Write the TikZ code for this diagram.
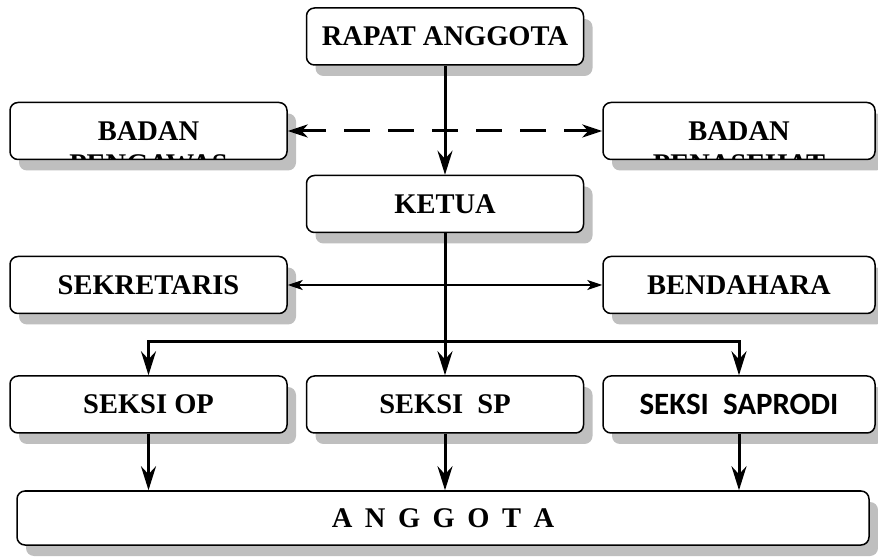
\documentclass[tikz,border=0pt]{standalone}
\usepackage{fontspec}
\setmainfont{Liberation Serif}
\newfontfamily\calfont{Carlito}
\usetikzlibrary{arrows.meta,shadows}
\tikzset{
    box/.style={draw, line width=1.5pt, rounded corners=8pt, fill=white,
        drop shadow={shadow xshift=9pt,shadow yshift=-11pt,fill=black!25,opacity=1},
        minimum width=277pt, minimum height=57pt, inner sep=0pt,
        font=\fontsize{28.5}{34}\selectfont\bfseries},
    narrowbox/.style={box, minimum width=272pt},
    boxtext/.style={inner sep=0pt, font=\fontsize{28.5}{34}\selectfont\bfseries},
    mainarrow/.style={line width=3pt, -{Stealth[length=24pt,width=15pt,inset=8pt]}},
    sidearrow/.style={line width=1.5pt,
        {Stealth[length=15pt,width=10pt,inset=4pt]}-{Stealth[length=15pt,width=10pt,inset=4pt]}},
    advarrow/.style={line width=3pt, dash pattern=on 26pt off 18pt,
        {Stealth[length=20pt,width=13pt,inset=6pt]}-{Stealth[length=20pt,width=13pt,inset=6pt]}}
}
\begin{document}
\begin{tikzpicture}[x=1pt,y=1pt]
    \useasboundingbox (0,0) rectangle (878,557);
    \node[box] (rapat) at (445,520.5) {RAPAT ANGGOTA};
    \node[box] (badanL) at ([shift={+(-296.5,-94.5)}]rapat) {BADAN};
    \node[narrowbox] (badanR) at ([shift={+(590.5,0)}]badanL) {BADAN};
    \node[box] (ketua) at ([shift={+(0,-167.5)}]rapat) {KETUA};
    \node[box] (sek) at ([shift={+(0,-154)}]badanL) {SEKRETARIS};
    \node[narrowbox] (bend) at ([shift={+(590.5,0)}]sek) {BENDAHARA};
    \node[box] (op) at ([shift={+(0,-119.5)}]sek) {SEKSI OP};
    \node[box] (sp) at ([shift={+(296.5,0)}]op) {SEKSI\ \ SP};
    \node[narrowbox, font=\calfont\fontsize{31}{34}\selectfont\bfseries] (sap) at ([shift={+(294,0)}]sp) {SEKSI\ \ SAPRODI};
    \node[box, minimum width=852pt, minimum height=54pt] (anggota) at ([shift={+(-2,-113.5)}]sp) {\spaceskip=12.5pt A N G G O T A};
    % second lines cut off by the boxes
    \begin{scope}
        \clip ([shift={(1pt,1pt)}]badanL.south west) rectangle ([shift={(-1pt,-1pt)}]badanL.north east);
        \node[boxtext, anchor=base] (pengawas) at ([yshift=-43pt]badanL.center) {PENGAWAS};
    \end{scope}
    \begin{scope}
        \clip ([shift={(1pt,1pt)}]badanR.south west) rectangle ([shift={(-1pt,-1pt)}]badanR.north east);
        \node[boxtext, anchor=base] (penasehat) at ([yshift=-43pt]badanR.center) {PENASEHAT};
    \end{scope}
    \draw[mainarrow] (rapat.south) -- (ketua.north);
    \draw[advarrow] (badanL.east) -- (badanR.west);
    \draw[sidearrow] (sek.east) -- (bend.west);
    \draw[mainarrow] (ketua.south) -- (sp.north);
    \draw[mainarrow] (ketua.south) -- ++(0,-108) -| (op.north);
    \draw[mainarrow] (ketua.south) -- ++(0,-108) -| (sap.north);
    \draw[mainarrow] (op.south) -- (op.south |- anggota.north);
    \draw[mainarrow] (sp.south) -- (sp.south |- anggota.north);
    \draw[mainarrow] (sap.south) -- (sap.south |- anggota.north);
\end{tikzpicture}
\end{document}
